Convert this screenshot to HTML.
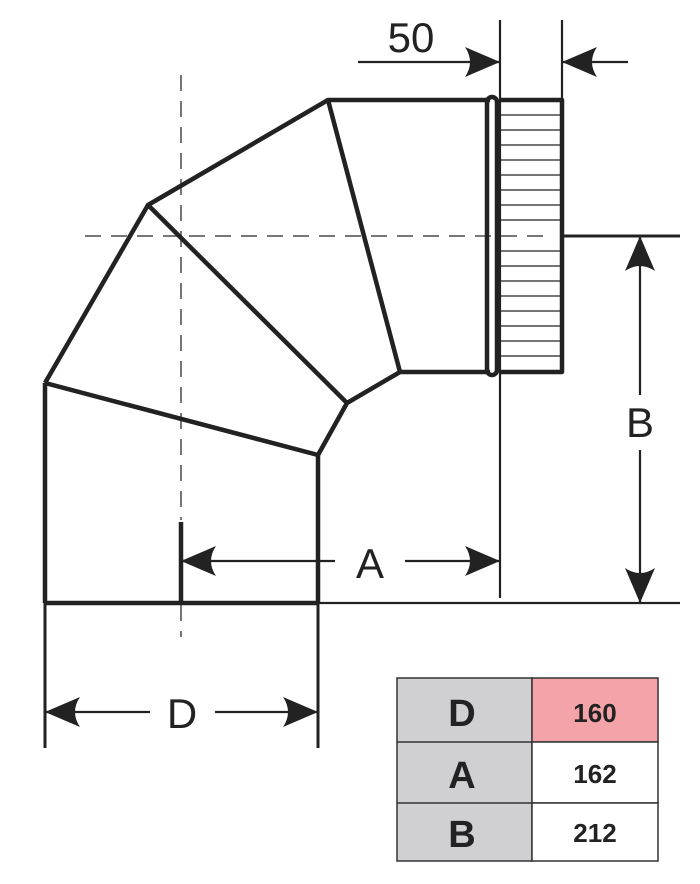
<!DOCTYPE html>
<html><head><style>body{margin:0;background:#fff}svg{display:block}</style></head><body>
<svg width="700" height="884" viewBox="0 0 700 884" xmlns="http://www.w3.org/2000/svg" font-family="Liberation Sans, sans-serif">
<defs>
<path id="ar" d="M0 0 L-35 -15 Q-25 0 -35 15 Z" fill="#222"/>
</defs>
<g stroke="#777" stroke-width="2" stroke-dasharray="16 10" fill="none">
<line x1="85" y1="236" x2="545" y2="236"/>
<line x1="181" y1="75" x2="181" y2="520"/>
<line x1="181" y1="605" x2="181" y2="637"/>
</g>
<g stroke="#222" stroke-width="4.5" fill="none" stroke-linejoin="round">
<polyline points="45,383 148,205 328,100 490,100"/>
<polyline points="318,455 347,403 400,372 490,372"/>
<line x1="45" y1="383" x2="318" y2="455"/>
<line x1="148" y1="205" x2="347" y2="403"/>
<line x1="328" y1="100" x2="400" y2="372"/>
<line x1="45" y1="383" x2="45" y2="603"/>
<line x1="318" y1="455" x2="318" y2="603"/>
<line x1="45" y1="603" x2="318" y2="603"/>
<line x1="181" y1="522" x2="181" y2="603"/>
<rect x="487" y="97" width="10" height="278" rx="5"/>
<polyline points="500,100 562,100 562,372 500,372"/>
<line x1="562" y1="236" x2="680" y2="236" stroke-width="3"/>
</g>
<g stroke="#222" stroke-width="1.3">
<line x1="501" y1="115" x2="560" y2="115"/><line x1="501" y1="130" x2="560" y2="130"/><line x1="501" y1="145" x2="560" y2="145"/><line x1="501" y1="160" x2="560" y2="160"/><line x1="501" y1="175" x2="560" y2="175"/><line x1="501" y1="190" x2="560" y2="190"/><line x1="501" y1="205" x2="560" y2="205"/><line x1="501" y1="220" x2="560" y2="220"/><line x1="501" y1="251" x2="560" y2="251"/><line x1="501" y1="266" x2="560" y2="266"/><line x1="501" y1="281" x2="560" y2="281"/><line x1="501" y1="296" x2="560" y2="296"/><line x1="501" y1="311" x2="560" y2="311"/><line x1="501" y1="326" x2="560" y2="326"/><line x1="501" y1="341" x2="560" y2="341"/><line x1="501" y1="356" x2="560" y2="356"/>
</g>
<g stroke="#222" stroke-width="2.2" fill="none">
<line x1="500" y1="20" x2="500" y2="598"/>
<line x1="562" y1="20" x2="562" y2="100"/>
<line x1="358" y1="62" x2="500" y2="62"/>
<line x1="562" y1="62" x2="628" y2="62"/>
<line x1="318" y1="603" x2="680" y2="603"/>
<line x1="181" y1="561" x2="335" y2="561"/>
<line x1="405" y1="561" x2="500" y2="561"/>
<line x1="640" y1="236" x2="640" y2="395"/>
<line x1="640" y1="450" x2="640" y2="603"/>
<line x1="45" y1="603" x2="45" y2="748" stroke-width="3"/>
<line x1="318" y1="603" x2="318" y2="748" stroke-width="3"/>
<line x1="45" y1="712" x2="150" y2="712"/>
<line x1="215" y1="712" x2="318" y2="712"/>
</g>
<use href="#ar" transform="translate(500,62)"/>
<use href="#ar" transform="translate(562,62) rotate(180)"/>
<use href="#ar" transform="translate(181,561) rotate(180)"/>
<use href="#ar" transform="translate(500,561)"/>
<use href="#ar" transform="translate(640,236) rotate(-90)"/>
<use href="#ar" transform="translate(640,603) rotate(90)"/>
<use href="#ar" transform="translate(45,712) rotate(180)"/>
<use href="#ar" transform="translate(318,712)"/>
<g fill="#222" font-size="42" text-anchor="middle">
<text x="411" y="52">50</text>
<text x="370" y="578">A</text>
<text x="640" y="437">B</text>
<text x="182" y="728">D</text>
</g>
<g stroke="#333" stroke-width="1.5">
<rect x="397" y="678" width="135" height="183" fill="#d0d0d2"/>
<rect x="532" y="678" width="126" height="64" fill="#f4a4a8"/>
<rect x="532" y="742" width="126" height="61" fill="#fff"/>
<rect x="532" y="803" width="126" height="58" fill="#fff"/>
<line x1="397" y1="742" x2="532" y2="742"/>
<line x1="397" y1="803" x2="532" y2="803"/>
</g>
<g fill="#222" font-weight="bold" text-anchor="middle">
<text x="462" y="726" font-size="38">D</text>
<text x="462" y="788" font-size="38">A</text>
<text x="462" y="847" font-size="38">B</text>
<text x="595" y="722" font-size="26">160</text>
<text x="595" y="783" font-size="26">162</text>
<text x="595" y="842" font-size="26">212</text>
</g>
</svg>
</body></html>
